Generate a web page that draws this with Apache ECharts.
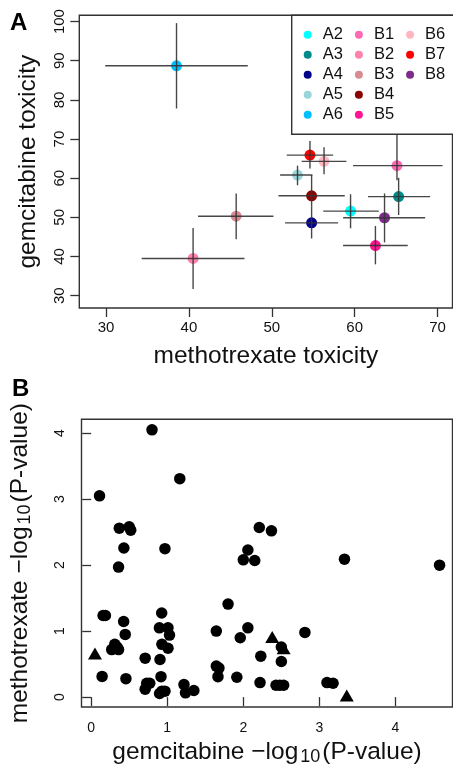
<!DOCTYPE html>
<html lang="en">
<head>
    <meta charset="UTF-8">
    <title>toxicity</title>
    <script src="https://cdn.jsdelivr.net/npm/echarts@6/dist/echarts.min.js"></script>
    <style>
        html, body { margin: 0; padding: 0; background: #fff; }
        #chart { width: 453px; height: 767px; }
    </style>
</head>
<body>
<div id="chart"></div>
<script>
    // panel A: mean toxicity per line, with error bars
    var lines   = ['A2', 'A3', 'A4', 'A5', 'A6', 'B1', 'B2', 'B3', 'B4', 'B5', 'B6', 'B7', 'B8'];
    var mtx     = [59.5, 65.3, 54.8, 53.1, 38.5, 65.1, 40.5, 45.7, 54.8, 62.5, 56.3, 54.6, 63.6];
    var mtxLo   = [56.2, 61.6, 51.6, 51.0, 29.9, 59.8, 34.3, 41.1, 50.8, 58.6, 53.6, 51.8, 58.6];
    var mtxHi   = [62.9, 69.1, 58.0, 54.9, 47.1, 70.6, 46.7, 50.2, 58.8, 66.4, 59.0, 57.4, 68.5];
    var gem     = [51.6, 55.3, 48.6, 60.8, 88.7, 63.2, 39.5, 50.3, 55.5, 42.8, 64.3, 65.9, 49.9];
    var gemLo   = [47.2, 50.6, 44.6, 58.2, 77.8, 59.5, 31.7, 44.4, 52.7, 38.0, 61.0, 62.5, 43.6];
    var gemHi   = [55.9, 60.1, 52.7, 63.2, 99.6, 72.0, 47.3, 56.1, 60.8, 47.8, 67.9, 69.5, 56.1];
    var colors  = ['#00ffff', '#008b8b', '#00008b', '#9ad5da', '#00bfff', '#ff69b4', '#ff82ab',
                   '#d98b92', '#8b0000', '#ff1493', '#ffb6c1', '#ff0000', '#7d2a8c'];
    var mtxTicks = [30, 40, 50, 60, 70];
    var gemTicks = [30, 40, 50, 60, 70, 80, 90, 100];

    // panel B: -log10(P) gemcitabine vs methotrexate
    var circX = [0.80, 1.165, 0.11, 0.37, 0.50, 0.52, 0.43, 0.36, 0.97, 2.21, 2.37, 2.06, 2.00, 2.15, 3.33, 4.58,
                 1.80, 0.157, 0.187, 0.427, 0.448, 0.27, 0.31, 0.34, 0.36, 0.144, 0.457, 0.71, 0.73, 0.77, 0.71,
                 0.927, 0.897, 1.01, 1.03, 0.93, 1.01, 0.905, 0.918, 0.93, 0.97, 0.90, 1.22, 1.24, 1.35,
                 1.645, 1.645, 1.68, 1.667, 1.915, 1.96, 2.06, 2.23, 2.22, 2.43, 2.48, 2.53, 2.50, 2.50, 2.81, 3.10, 3.18];
    var circY = [4.05, 3.31, 3.05, 2.56, 2.58, 2.53, 2.26, 1.97, 2.25, 2.57, 2.52, 2.23, 2.08, 2.07, 2.09, 2.00,
                 1.41, 1.236, 1.236, 1.146, 0.95, 0.72, 0.80, 0.76, 0.72, 0.314, 0.28, 0.59, 0.21, 0.21, 0.12,
                 1.275, 1.05, 1.05, 0.94, 0.80, 0.74, 0.57, 0.31, 0.09, 0.09, 0.055, 0.19, 0.065, 0.10,
                 1.0, 0.47, 0.44, 0.31, 0.30, 0.90, 1.05, 0.62, 0.22, 0.18, 0.18, 0.18, 0.76, 0.54, 0.98, 0.22, 0.21];
    var triX = [0.05, 2.38, 2.53, 3.36];
    var triY = [0.66, 0.91, 0.74, 0.025];
    var pTicks = [0, 1, 2, 3, 4];

    var font = '"Liberation Sans", Arial, sans-serif';
    var ink = '#333';

    var series = [];
    for (var i = 0; i < lines.length; i++) {
        series.push({
            name: lines[i],
            type: 'scatter',
            xAxisIndex: 0, yAxisIndex: 0,
            symbol: 'circle',
            symbolSize: 11,
            itemStyle: { color: colors[i], opacity: 1 },
            data: [[mtx[i], gem[i]]],
            z: 2
        });
    }
    var bars = [];
    for (var i = 0; i < lines.length; i++) {
        bars.push([mtx[i], gem[i], mtxLo[i], mtxHi[i], gemLo[i], gemHi[i]]);
    }
    series.push({
        type: 'custom',
        xAxisIndex: 0, yAxisIndex: 0,
        encode: { x: 0, y: 1 },
        data: bars,
        z: 3,
        renderItem: function (params, api) {
            var a = api.coord([api.value(2), api.value(1)]);
            var b = api.coord([api.value(3), api.value(1)]);
            var c = api.coord([api.value(0), api.value(4)]);
            var d = api.coord([api.value(0), api.value(5)]);
            var st = { stroke: ink, lineWidth: 1.4, opacity: 0.9 };
            return {
                type: 'group',
                children: [
                    { type: 'line', shape: { x1: a[0], y1: a[1], x2: b[0], y2: b[1] }, style: st },
                    { type: 'line', shape: { x1: c[0], y1: c[1], x2: d[0], y2: d[1] }, style: st }
                ]
            };
        }
    });
    series.push({
        type: 'scatter',
        xAxisIndex: 1, yAxisIndex: 1,
        symbol: 'circle',
        symbolSize: 11.5,
        itemStyle: { color: '#000', opacity: 1 },
        data: circX.map(function (v, k) { return [v, circY[k]]; })
    });
    series.push({
        type: 'scatter',
        xAxisIndex: 1, yAxisIndex: 1,
        symbol: 'triangle',
        symbolSize: [14, 12],
        itemStyle: { color: '#000', opacity: 1 },
        data: triX.map(function (v, k) { return [v, triY[k]]; })
    });

    function axisBase(ticks, labelSize, margin, rotate) {
        return {
            type: 'value',
            splitLine: { show: false },
            axisLine: { show: false },
            axisTick: { show: true, inside: false, length: 9, customValues: ticks,
                lineStyle: { color: ink, width: 1.3 } },
            axisLabel: { customValues: ticks, fontSize: labelSize, color: '#111', fontFamily: font,
                margin: margin, rotate: rotate || 0 },
            nameLocation: 'middle',
            nameTextStyle: { fontFamily: font, color: '#111' }
        };
    }

    var xA = axisBase(mtxTicks, 15, 12);
    xA.min = 26.77; xA.max = 71.8; xA.gridIndex = 0;
    xA.name = 'methotrexate toxicity'; xA.nameGap = 36; xA.nameTextStyle.fontSize = 24.5;
    var yA = axisBase(gemTicks, 15, 12, 90);
    yA.min = 26.85; yA.max = 101.6; yA.gridIndex = 0;
    yA.name = 'gemcitabine toxicity'; yA.nameGap = 39; yA.nameTextStyle.fontSize = 24.5;

    var rich = {
        t: { fontSize: 24.5, fontFamily: font, color: '#111', lineHeight: 28 },
        s: { fontSize: 18, fontFamily: font, color: '#111', verticalAlign: 'bottom', lineHeight: 18, padding: [0, 2, 0, 2] }
    };
    var xB = axisBase(pTicks, 14, 14, 0);
    xB.min = -0.127; xB.max = 4.75; xB.gridIndex = 1;
    xB.name = '{t|gemcitabine −log}{s|10}{t|(P-value)}'; xB.nameGap = 31;
    xB.nameTextStyle.rich = rich;
    var yB = axisBase(pTicks, 14, 14, 90);
    yB.min = -0.15; yB.max = 4.21; yB.gridIndex = 1;
    yB.name = '{t|methotrexate −log}{s|10}{t|(P-value)}'; yB.nameGap = 47;
    yB.nameTextStyle.rich = rich;

    var myChart = echarts.init(document.getElementById('chart'), null, { renderer: 'canvas' });
    myChart.setOption({
        animation: false,
        backgroundColor: '#fff',
        title: [
            { text: 'A', left: 5, top: 6, textStyle: { fontSize: 24, fontWeight: 'bold', fontFamily: font, color: '#000' } },
            { text: 'B', left: 7, top: 372, textStyle: { fontSize: 24, fontWeight: 'bold', fontFamily: font, color: '#000' } }
        ],
        grid: [
            { left: 79.3, right: 0.5, top: 15.3, height: 292.7, show: true, borderColor: ink, borderWidth: 1.4, backgroundColor: 'transparent' },
            { left: 79.3, right: 0.5, top: 419.3, height: 291.7, show: true, borderColor: ink, borderWidth: 1.4, backgroundColor: 'transparent' }
        ],
        xAxis: [xA, xB],
        yAxis: [yA, yB],
        legend: {
            data: lines,
            orient: 'vertical',
            left: 291.7, top: 15.3,
            height: 106,
            padding: [11, 0, 11, 12],
            itemWidth: 8, itemHeight: 8, itemGap: 3,
            icon: 'circle',
            backgroundColor: '#fff',
            borderColor: ink, borderWidth: 1.4, borderRadius: 0,
            textStyle: { fontSize: 16.5, fontFamily: font, color: '#111', lineHeight: 17, padding: [0, 9, 0, 6] }
        },
        series: series
    });
</script>
</body>
</html>
